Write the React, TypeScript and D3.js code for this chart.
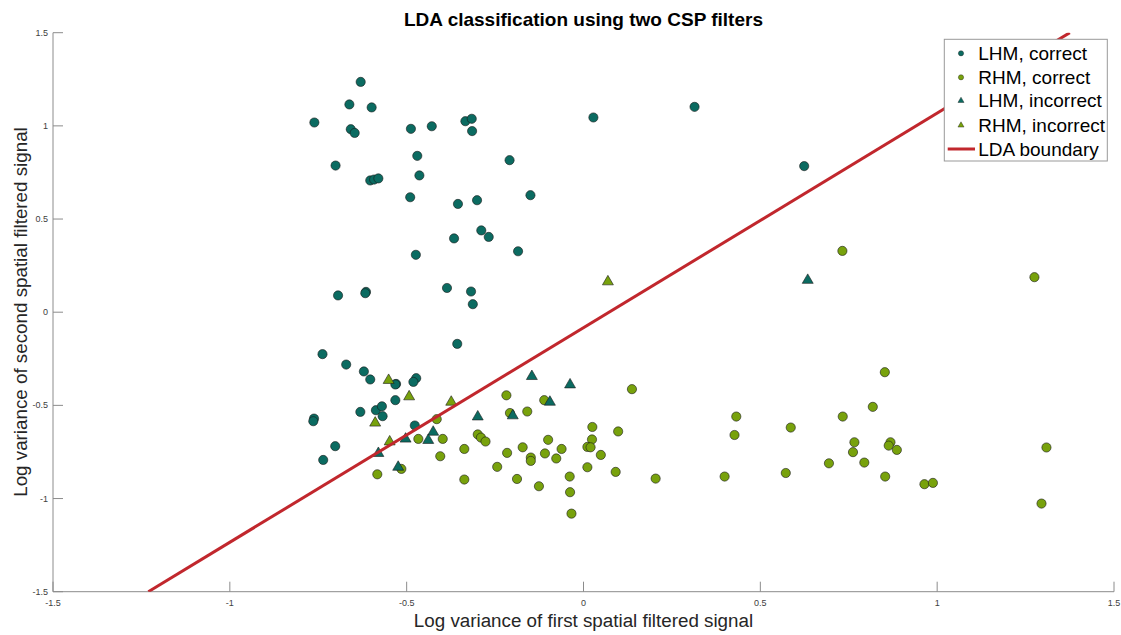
import React from "react";
import * as d3 from "d3";

// LHM, correct (teal circles)
const lhmCorrectX = [-0.630,-0.662,-0.599,-0.761,-0.658,-0.647,-0.488,-0.429,-0.334,-0.316,-0.315,-0.701,-0.603,-0.592,-0.580,-0.470,-0.464,-0.490,-0.209,-0.355,-0.301,-0.150,-0.289,-0.268,-0.366,0.028,0.314,0.624,-0.185,-0.474,-0.694,-0.615,-0.617,-0.386,-0.318,-0.313,-0.357,-0.738,-0.671,-0.621,-0.603,-0.530,-0.532,-0.473,-0.481,-0.532,-0.631,-0.587,-0.570,-0.568,-0.762,-0.764,-0.477,-0.702,-0.736];
const lhmCorrectY = [1.236,1.115,1.099,1.018,0.982,0.962,0.984,0.998,1.025,1.038,0.972,0.787,0.707,0.712,0.718,0.839,0.734,0.617,0.816,0.581,0.601,0.628,0.439,0.404,0.396,1.045,1.102,0.784,0.327,0.308,0.090,0.109,0.102,0.130,0.111,0.043,-0.170,-0.225,-0.281,-0.318,-0.361,-0.385,-0.388,-0.354,-0.374,-0.472,-0.535,-0.526,-0.505,-0.558,-0.571,-0.585,-0.608,-0.719,-0.793];

// RHM, correct (green circles)
const rhmCorrectX = [-0.415,-0.218,-0.208,-0.467,-0.398,-0.299,-0.290,-0.277,-0.337,-0.405,-0.216,-0.515,-0.583,-0.337,-0.244,0.137,-0.111,-0.159,-0.172,-0.149,-0.149,-0.100,-0.109,-0.062,-0.077,-0.188,-0.126,-0.039,-0.038,-0.034,0.025,0.024,0.011,0.020,0.049,0.011,0.098,0.091,0.204,0.732,0.852,0.818,0.432,0.733,0.427,0.586,0.766,0.762,0.868,0.863,0.886,0.694,0.794,0.853,0.399,0.572,0.964,0.988,1.309,1.295,1.275];
const rhmCorrectY = [-0.574,-0.446,-0.541,-0.680,-0.680,-0.656,-0.673,-0.694,-0.734,-0.773,-0.755,-0.841,-0.870,-0.898,-0.830,-0.413,-0.472,-0.533,-0.725,-0.780,-0.798,-0.685,-0.758,-0.734,-0.785,-0.895,-0.934,-0.882,-0.966,-1.081,-0.616,-0.683,-0.723,-0.725,-0.766,-0.832,-0.640,-0.857,-0.893,0.329,-0.322,-0.508,-0.560,-0.560,-0.659,-0.619,-0.698,-0.751,-0.698,-0.716,-0.739,-0.811,-0.807,-0.882,-0.882,-0.863,-0.923,-0.916,-0.726,-1.027,0.188];

// LHM, incorrect (teal triangles)
const lhmIncorrectX = [-0.299,-0.425,-0.439,-0.503,-0.580,-0.524,-0.146,-0.038,-0.095,-0.200,0.634];
const lhmIncorrectY = [-0.557,-0.639,-0.683,-0.676,-0.753,-0.827,-0.340,-0.385,-0.478,-0.551,0.176];

// RHM, incorrect (green triangles)
const rhmIncorrectX = [-0.551,-0.493,-0.374,-0.589,-0.548,0.069];
const rhmIncorrectY = [-0.361,-0.449,-0.478,-0.590,-0.691,0.168];

// LDA boundary end points
const boundaryX = [-1.2305, 1.375];
const boundaryY = [-1.5, 1.5];

const xTicks = [-1.5, -1, -0.5, 0, 0.5, 1, 1.5];
const yTicks = [-1.5, -1, -0.5, 0, 0.5, 1, 1.5];
const legendLabels = ["LHM, correct", "RHM, correct", "LHM, incorrect", "RHM, incorrect", "LDA boundary"];

const TEAL = "#0b6b61";
const GREEN = "#78a20c";
const RED = "#c1272d";
const FONT = "'Liberation Sans', Arial, Helvetica, sans-serif";

export default function App() {
  const W = 1121, H = 635;
  const x = d3.scaleLinear().domain([-1.5, 1.5]).range([53, 1114]);
  const y = d3.scaleLinear().domain([-1.5, 1.5]).range([591.7, 32.7]);
  const [x0, x1] = x.range();
  const [yb, yt] = y.range();

  const tri = d3.symbol().type(d3.symbolTriangle).size(52)() as string;
  const triSmall = d3.symbol().type(d3.symbolTriangle).size(16)() as string;

  const zip = (xs: number[], ys: number[]) => xs.map((v, i) => [v, ys[i]] as [number, number]);
  const lineGen = d3.line<[number, number]>().x(d => x(d[0])).y(d => y(d[1]));

  const circles = (pts: [number, number][], color: string, key: string) =>
    pts.map((p, i) => (
      <circle key={key + i} cx={x(p[0])} cy={y(p[1])} r={4.6} fill={color} stroke="#1a1a1a" strokeWidth={0.6} />
    ));
  const triangles = (pts: [number, number][], color: string, key: string) =>
    pts.map((p, i) => (
      <path key={key + i} d={tri} transform={`translate(${x(p[0])},${y(p[1]) + 0.8})`} fill={color} stroke="#1a1a1a" strokeWidth={0.6} />
    ));

  const legX = 944.3, legY = 39.3, legW = 163, legH = 121.7;
  const rowY = [53.3, 77.3, 100.7, 125.3, 149];

  return (
    <svg width={W} height={H} style={{ position: "absolute", left: 0, top: 0, background: "#fff" }} fontFamily={FONT}>
      <defs>
        <clipPath id="plotClip">
          <rect x={x0} y={yt} width={x1 - x0} height={yb - yt} />
        </clipPath>
      </defs>
      <rect width={W} height={H} fill="#fff" />

      {/* axes */}
      <g stroke="#8c8c8c" strokeWidth={1} fill="none">
        <line x1={x0} y1={yb} x2={x1} y2={yb} />
        <line x1={x0} y1={yb} x2={x0} y2={yt} />
        {xTicks.map(t => <line key={"xt" + t} x1={x(t)} x2={x(t)} y1={yb} y2={yb - 10} />)}
        {yTicks.map(t => <line key={"yt" + t} x1={x0} x2={x0 + 10} y1={y(t)} y2={y(t)} />)}
      </g>
      <g fill="#404040" fontSize={9}>
        {xTicks.map(t => (
          <text key={"xl" + t} x={x(t)} y={yb + 14} textAnchor="middle">{String(t)}</text>
        ))}
        {yTicks.map(t => (
          <text key={"yl" + t} x={x0 - 5} y={y(t) + 3} textAnchor="end">{String(t)}</text>
        ))}
      </g>

      {/* points */}
      <g>
        {circles(zip(lhmCorrectX, lhmCorrectY), TEAL, "lc")}
        {circles(zip(rhmCorrectX, rhmCorrectY), GREEN, "rc")}
        {triangles(zip(lhmIncorrectX, lhmIncorrectY), TEAL, "li")}
        {triangles(zip(rhmIncorrectX, rhmIncorrectY), GREEN, "ri")}
      </g>

      {/* boundary */}
      <path d={lineGen(zip(boundaryX, boundaryY)) as string} stroke={RED} strokeWidth={3} fill="none" clipPath="url(#plotClip)" />

      {/* title and labels */}
      <text x={583.5} y={25.5} textAnchor="middle" fontWeight="bold" fontSize={19} fill="#000">
        LDA classification using two CSP filters
      </text>
      <text x={583.5} y={627} textAnchor="middle" fontSize={18.8} fill="#262626">
        Log variance of first spatial filtered signal
      </text>
      <text transform={`translate(27,312) rotate(-90)`} textAnchor="middle" fontSize={18.8} fill="#262626">
        Log variance of second spatial filtered signal
      </text>

      {/* legend */}
      <g>
        <rect x={legX} y={legY} width={legW} height={legH} fill="#fff" stroke="#999" strokeWidth={1} />
        <circle cx={961} cy={rowY[0]} r={2.6} fill={TEAL} stroke="#1a1a1a" strokeWidth={0.4} />
        <circle cx={961} cy={rowY[1]} r={2.6} fill={GREEN} stroke="#1a1a1a" strokeWidth={0.4} />
        <path d={triSmall} transform={`translate(961,${rowY[2]})`} fill={TEAL} stroke="#1a1a1a" strokeWidth={0.4} />
        <path d={triSmall} transform={`translate(961,${rowY[3]})`} fill={GREEN} stroke="#1a1a1a" strokeWidth={0.4} />
        <line x1={947.7} x2={975} y1={rowY[4]} y2={rowY[4]} stroke={RED} strokeWidth={3} />
        {legendLabels.map((l, i) => (
          <text key={l} x={978.3} y={rowY[i] + 6.5} fontSize={19} fill="#000">{l}</text>
        ))}
      </g>
    </svg>
  );
}
